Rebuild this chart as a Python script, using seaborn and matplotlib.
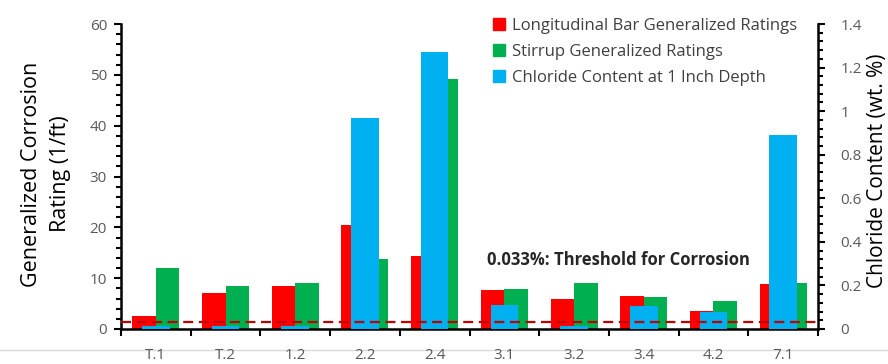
import matplotlib
matplotlib.use("Agg")
import matplotlib.pyplot as plt
from matplotlib.lines import Line2D
from matplotlib.ticker import MultipleLocator, FixedLocator, NullFormatter
import numpy as np
import pandas as pd
import seaborn as sns

# Specimens and measured values
specimens = ["T.1", "T.2", "1.2", "2.2", "2.4", "3.1", "3.2", "3.4", "4.2", "7.1"]
longitudinal = [2.6, 7.1, 8.5, 20.5, 14.4, 7.6, 6.0, 6.5, 3.6, 8.9]
stirrup = [12.0, 8.5, 9.0, 13.8, 49.2, 7.8, 9.0, 6.3, 5.6, 9.0]
chloride = [0.012, 0.012, 0.012, 0.97, 1.27, 0.11, 0.012, 0.107, 0.078, 0.89]
threshold = 0.033

series_names = ["Longitudinal Bar Generalized Ratings", "Stirrup Generalized Ratings"]
chloride_name = "Chloride Content at 1 Inch Depth"

RED = "#FF0000"
GREEN = "#00B050"
BLUE = "#00B0F0"
DARKRED = "#C00000"
TICKGRAY = "#595959"
TEXTGRAY = "#404040"

sns.set_style("white")
plt.rcParams["font.family"] = ["Open Sans", "DejaVu Sans"]

ratings = pd.DataFrame({
    "specimen": specimens * 2,
    "rating": longitudinal + stirrup,
    "type": [series_names[0]] * len(specimens) + [series_names[1]] * len(specimens),
})
chl = pd.DataFrame({"specimen": specimens, "chloride": chloride})

fig = plt.figure(figsize=(8.88, 3.64), dpi=100)
ax = fig.add_axes([121 / 888, 1 - 329 / 364, (818 - 121) / 888, (329 - 24) / 364])
ax2 = ax.twinx()

sns.barplot(data=ratings, x="specimen", y="rating", hue="type",
            palette=[RED, GREEN], width=0.674, saturation=1,
            order=specimens, hue_order=series_names, legend=False, ax=ax,
            linewidth=0)
sns.barplot(data=chl, x="specimen", y="chloride", color=BLUE, width=0.395,
            saturation=1, order=specimens, ax=ax2, linewidth=0)

ax2.axhline(threshold, color=DARKRED, lw=1.6, ls=(0, (4.5, 2.5)), zorder=5)

# Left axis
ax.set_ylim(0, 60)
ax.set_xlim(-0.5, len(specimens) - 0.5)
ax.yaxis.set_major_locator(MultipleLocator(10))
ax.yaxis.set_minor_locator(MultipleLocator(2))
ax.tick_params(axis="y", which="major", direction="out", length=5, width=1.5,
               color="black", labelsize=11, labelcolor=TICKGRAY, pad=5, left=True)
ax.tick_params(axis="y", which="minor", direction="out", length=3.5, width=1.5,
               color="black", left=True)
ax.set_ylabel("")
ax.set_xlabel("")

# Category boundaries carry the x tick marks
ax.xaxis.set_minor_locator(FixedLocator(np.arange(-0.5, len(specimens), 1.0)))
ax.xaxis.set_minor_formatter(NullFormatter())
ax.tick_params(axis="x", which="major", length=0, labelsize=11,
               labelcolor=TICKGRAY, pad=14)
ax.tick_params(axis="x", which="minor", direction="out", length=5, width=1.5,
               color="black", bottom=True)

# Right axis
ax2.set_ylim(0, 1.4)
ax2.yaxis.set_major_locator(FixedLocator([0, 0.2, 0.4, 0.6, 0.8, 1.0, 1.2, 1.4]))
ax2.set_yticklabels(["0", "0.2", "0.4", "0.6", "0.8", "1", "1.2", "1.4"])
ax2.yaxis.set_minor_locator(MultipleLocator(0.04))
ax2.tick_params(axis="y", which="major", direction="out", length=5, width=1.5,
                color="black", labelsize=11, labelcolor=TICKGRAY, pad=11, right=True)
ax2.tick_params(axis="y", which="minor", direction="out", length=3.5, width=1.5,
                color="black", right=True)
ax2.set_ylabel("")
ax2.set_xlabel("")

for a in (ax, ax2):
    a.spines["top"].set_visible(False)
    for s in ("left", "right", "bottom"):
        a.spines[s].set_color("black")
        a.spines[s].set_linewidth(1.8)
ax.spines["right"].set_visible(False)
ax2.spines["left"].set_visible(False)
ax2.spines["bottom"].set_visible(False)
ax.grid(False)
ax2.grid(False)

# Axis titles
fig.text(46 / 888, 1 - 174 / 364, "Generalized Corrosion\nRating (1/ft)", rotation=90,
         ha="center", va="center", multialignment="center", fontsize=15.5,
         linespacing=1.45, color="black")
fig.text(877 / 888, 1 - 171 / 364, "Chloride Content (wt. %)", rotation=90,
         ha="center", va="center", fontsize=15, color="black")

ax2.text(0.525, 0.226, "0.033%: Threshold for Corrosion", transform=ax.transAxes,
         fontsize=12, fontweight="bold", color="#262626", ha="left", va="center")

handles = [Line2D([], [], marker="s", ls="none", markersize=8, color=c)
           for c in (RED, GREEN, BLUE)]
leg = fig.legend(handles, series_names + [chloride_name], loc="upper left",
                 bbox_to_anchor=(486 / 888, 1 - 11 / 364), frameon=False,
                 fontsize=12, labelcolor=TEXTGRAY, handlelength=0.8,
                 handletextpad=0.35, labelspacing=0.6, borderaxespad=0)

fig.add_artist(Line2D([0, 1], [1 - 350 / 364, 1 - 350 / 364], color="#D9D9D9",
                      lw=1, transform=fig.transFigure, zorder=-5))

fig.savefig("out.png", dpi=100)
